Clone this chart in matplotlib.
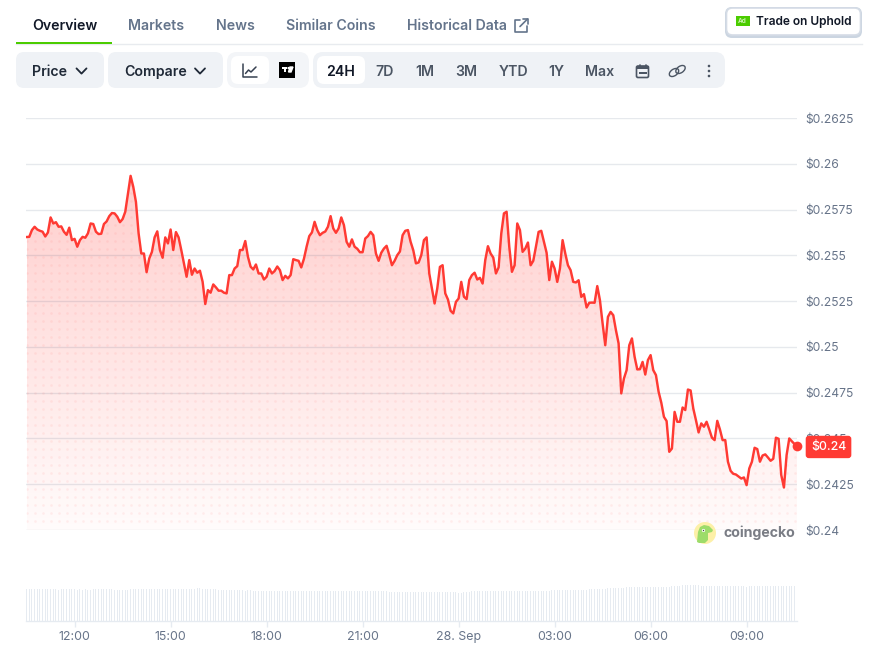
import numpy as np
import matplotlib
matplotlib.use("Agg")
import matplotlib.pyplot as plt
from matplotlib.patches import FancyBboxPatch, Circle, Rectangle, Ellipse

plt.rcParams["font.family"] = ["Inter", "DejaVu Sans"]

# price every 5 minutes
prices = [
    0.25600, 0.25601, 0.25638, 0.25656, 0.25641, 0.25634, 0.25629, 0.25603, 0.25625, 0.25707,
    0.25674, 0.25681, 0.25656, 0.25658, 0.25629, 0.25612, 0.25651, 0.25583, 0.25590, 0.25547,
    0.25583, 0.25601, 0.25596, 0.25620, 0.25674, 0.25671, 0.25629, 0.25616, 0.25618, 0.25671,
    0.25685, 0.25714, 0.25731, 0.25729, 0.25711, 0.25681, 0.25698, 0.25738, 0.25838, 0.25934,
    0.25874, 0.25792, 0.25620, 0.25510, 0.25510, 0.25408, 0.25483, 0.25519, 0.25598, 0.25631,
    0.25529, 0.25487, 0.25598, 0.25565, 0.25641, 0.25529, 0.25627, 0.25598, 0.25529, 0.25456,
    0.25383, 0.25474, 0.25394, 0.25428, 0.25405, 0.25416, 0.25356, 0.25234, 0.25310, 0.25296,
    0.25341, 0.25325, 0.25307, 0.25307, 0.25296, 0.25292, 0.25392, 0.25392, 0.25428, 0.25441,
    0.25529, 0.25529, 0.25578, 0.25492, 0.25438, 0.25423, 0.25450, 0.25401, 0.25401, 0.25368,
    0.25383, 0.25428, 0.25401, 0.25414, 0.25439, 0.25419, 0.25365, 0.25388, 0.25374, 0.25392,
    0.25479, 0.25474, 0.25470,
    0.25434, 0.25481, 0.25547, 0.25605, 0.25625, 0.25683, 0.25638, 0.25610, 0.25623, 0.25630,
    0.25656, 0.25714, 0.25647, 0.25623, 0.25647, 0.25707, 0.25665, 0.25574, 0.25547, 0.25587,
    0.25547, 0.25536, 0.25517, 0.25517, 0.25592, 0.25605, 0.25628, 0.25610, 0.25510, 0.25470,
    0.25514, 0.25537, 0.25552, 0.25501, 0.25446, 0.25470, 0.25501, 0.25521, 0.25610, 0.25634,
    0.25638, 0.25574, 0.25528, 0.25456, 0.25461, 0.25501, 0.25583, 0.25598, 0.25401, 0.25319,
    0.25237, 0.25319, 0.25437, 0.25446, 0.25292, 0.25259, 0.25197, 0.25183, 0.25246, 0.25264,
    0.25355, 0.25274, 0.25261, 0.25365, 0.25392, 0.25405, 0.25368, 0.25377, 0.25346, 0.25474,
    0.25550, 0.25510, 0.25488, 0.25401, 0.25434, 0.25619, 0.25729, 0.25738, 0.25547, 0.25410,
    0.25446, 0.25674, 0.25638, 0.25519, 0.25537, 0.25570, 0.25446, 0.25470, 0.25547, 0.25628,
    0.25634, 0.25574, 0.25514, 0.25365, 0.25465, 0.25428, 0.25355, 0.25428, 0.25583, 0.25510,
    0.25446,
    0.25419, 0.25355, 0.25352, 0.25364, 0.25273, 0.25288, 0.25215, 0.25241, 0.25242, 0.25241,
    0.25332, 0.25255, 0.25128, 0.25009, 0.25164, 0.25191, 0.25173, 0.25091, 0.25019, 0.24746,
    0.24827, 0.24873, 0.25009, 0.25046, 0.24946, 0.24877, 0.24878, 0.24918, 0.24849, 0.24928,
    0.24955, 0.24873, 0.24846, 0.24755, 0.24696, 0.24618, 0.24595, 0.24427, 0.24445, 0.24645,
    0.24591, 0.24591, 0.24669, 0.24655, 0.24767, 0.24762, 0.24664, 0.24600, 0.24533, 0.24582,
    0.24564, 0.24591, 0.24549, 0.24504, 0.24491, 0.24596, 0.24549, 0.24491, 0.24491, 0.24373,
    0.24323, 0.24307, 0.24303, 0.24292, 0.24281, 0.24287, 0.24245, 0.24336, 0.24373, 0.24449,
    0.24442, 0.24373, 0.24407, 0.24413, 0.24396, 0.24378, 0.24389, 0.24504, 0.24498, 0.24300,
    0.24232, 0.24409, 0.24500, 0.24484, 0.24469, 0.24458,
]
volumes = [
    32, 32, 32, 32, 32, 32, 32, 32, 32, 32, 32, 32, 31, 32, 32, 32, 32, 32, 32, 31,
    32, 31, 32, 31, 31, 32, 32, 32, 32, 32, 32, 32, 32, 31, 31, 31, 31, 31, 31, 32,
    32, 32, 32, 32, 32, 32, 32, 32, 32, 32, 32, 32, 32, 32, 32, 32, 32, 32, 32, 32,
    32, 32, 32, 32, 33, 33, 32, 32, 32, 32, 32, 32, 31, 31, 31, 31, 31, 31, 31, 31,
    31, 31, 30, 31, 31, 30, 30, 30, 30, 30, 30, 30, 30, 30, 30, 30, 30, 30, 30, 30,
    30, 30, 30, 30, 30, 30, 30, 30, 30, 30, 30, 30, 30, 30, 30, 30, 30, 30, 30, 30,
    30, 30, 30, 30, 30, 30, 30, 30, 30, 30, 30, 30, 30, 30, 30, 30, 29, 29, 29, 29,
    29, 29, 29, 29, 29, 29, 29, 29, 29, 29, 29, 29, 29, 29, 29, 29, 29, 29, 29, 29,
    29, 29, 28, 28, 29, 29, 29, 30, 30, 30, 30, 30, 30, 30, 30, 30, 30, 30, 30, 30,
    30, 30, 30, 30, 30, 30, 30, 30, 30, 30, 30, 30, 30, 30, 30, 30, 30, 31, 31, 31,
    31, 31, 31, 31, 31, 31, 31, 31, 31, 31, 31, 32, 32, 32, 32, 32, 32, 32, 33, 33,
    33, 33, 33, 33, 33, 34, 34, 34, 34, 34, 34, 34, 34, 34, 34, 34, 34, 34, 34, 34,
    34, 34, 35, 35, 35, 35, 36, 36, 36, 36, 36, 36, 36, 35, 35, 35, 35, 35, 35, 35,
    35, 35, 35, 35, 35, 35, 35, 35, 35, 35, 34, 35, 35, 35, 35, 35, 35, 35, 35, 35,
    35, 35, 35, 35, 35, 35, 35, 35, 35, 35,
]
start_hour = 10.5  # 10:30 the day before
step_hours = 5 / 60

y_ticks = [0.24, 0.2425, 0.245, 0.2475, 0.25, 0.2525, 0.255, 0.2575, 0.26, 0.2625]
y_labels = ["$0.24", "$0.2425", "$0.245", "$0.2475", "$0.25", "$0.2525", "$0.255", "$0.2575", "$0.26", "$0.2625"]
x_ticks = [12, 15, 18, 21, 24, 27, 30, 33]
x_labels = ["12:00", "15:00", "18:00", "21:00", "28. Sep", "03:00", "06:00", "09:00"]
tabs = ["Overview", "Markets", "News", "Similar Coins", "Historical Data"]
ranges = ["24H", "7D", "1M", "3M", "YTD", "1Y", "Max"]

RED = "#ff3a33"
GREY = "#677489"
INK = "#111827"
SLATE = "#4b5563"
PILL = "#eff2f6"
W, H = 877, 648


def rect_from_px(x0, y0, x1, y1):
    return [x0 / W, 1 - y1 / H, (x1 - x0) / W, (y1 - y0) / H]


def hour_at(px):
    return 12 + (px - 74.6) / 32


hours = start_hour + np.arange(len(prices)) * step_hours
vol_hours = start_hour + np.arange(len(volumes)) * step_hours

fig = plt.figure(figsize=(W / 100, H / 100), dpi=100, facecolor="white")

# price chart
ax = fig.add_axes(rect_from_px(26, 118, 797, 530))
ax.set_xlim(hour_at(26), hour_at(797))
ax.set_ylim(0.24, 0.2625)
ax.patch.set_alpha(0)
for s in ax.spines.values():
    s.set_visible(False)
ax.set_axisbelow(False)
ax.grid(axis="y", color="#1e3a5f", alpha=0.11, lw=1)
ax.grid(axis="x", visible=False)
ax.set_xticks([])
ax.yaxis.tick_right()
ax.set_yticks(y_ticks)
ax.set_yticklabels(y_labels, fontsize=8.7, color=GREY)
ax.tick_params(axis="y", length=0, pad=6)

area = ax.fill_between(hours, prices, 0.24, color="none", lw=0, zorder=1)
clip = area.get_paths()[0]
alpha = np.linspace(0.25, 0.02, 256)
grad = np.zeros((256, 1, 4))
grad[..., 0], grad[..., 1], grad[..., 2] = 1.0, 0.227, 0.2
grad[:, 0, 3] = alpha
im = ax.imshow(grad, extent=[hours[0], hours[-1], 0.24, 0.2595], origin="upper", aspect="auto", zorder=1)
im.set_clip_path(clip, transform=ax.transData)
ax.set_xlim(hour_at(26), hour_at(797))
ax.set_ylim(0.24, 0.2625)

# dotted texture inside the area
gx, gy = np.meshgrid(np.arange(hours[0], hours[-1], 8 / 32), np.arange(0.2405, 0.2595, 8 / 412 * 0.0225))
dots = ax.scatter(gx.ravel(), gy.ravel(), s=3.6, color=RED, alpha=0.07, lw=0, zorder=1.2)
dots.set_clip_path(clip, transform=ax.transData)

ax.plot(hours, prices, color=RED, lw=1.75, solid_joinstyle="round", zorder=3)
ax.plot(hours[-1], prices[-1], "o", ms=7, color=RED, mew=0, zorder=9, clip_on=False)
ax.annotate("$0.24", xy=(hours[-1], prices[-1]), xytext=(22.5, -0.6), textcoords="offset points",
            ha="center", va="center", color="white", fontsize=8.9, fontweight="medium", zorder=10,
            annotation_clip=False,
            bbox=dict(boxstyle="round,pad=0.42,rounding_size=0.25", fc=RED, ec="none"))

# volume strip
vax = fig.add_axes(rect_from_px(26, 585.3, 797, 621.3))
vax.set_xlim(hour_at(26), hour_at(797))
vax.set_ylim(0, 36)
vax.bar(vol_hours, volumes, width=1 / 32, color="#e6ebf1", lw=0)
for side in ["top", "left", "right"]:
    vax.spines[side].set_visible(False)
vax.spines["bottom"].set_color("#e6ebf1")
vax.spines["bottom"].set_linewidth(1)
vax.set_yticks([])
vax.set_xticks(x_ticks)
vax.set_xticklabels(x_labels, fontsize=8.9, color=GREY)
vax.tick_params(axis="x", length=4, width=1, color="#e6ebf1", pad=3)

# page furniture, in pixels
ui = fig.add_axes([0, 0, 1, 1], zorder=-1)
ui.set_xlim(0, W)
ui.set_ylim(H, 0)
ui.axis("off")
top = fig.add_axes([0, 0, 1, 1], zorder=5)
top.set_xlim(0, W)
top.set_ylim(H, 0)
top.axis("off")


def box(x0, y0, x1, y1, r, fc, ec="none", lw=0, z=1):
    ui.add_patch(FancyBboxPatch((x0, y0), x1 - x0, y1 - y0, boxstyle=f"round,pad=0,rounding_size={r}",
                                fc=fc, ec=ec, lw=lw, zorder=z))


def icon(xs, ys, color=SLATE, lw=1.1):
    ui.plot(xs, ys, color=color, lw=lw, solid_capstyle="round", solid_joinstyle="round", zorder=5)


def chevron(cx, cy):
    icon([cx - 5, cx, cx + 5], [cy - 2.6, cy + 2.6, cy - 2.6], color="#1f2937", lw=1.3)


# tabs
tab_x = [32, 128, 216, 286, 407]
for i, (name, tx) in enumerate(zip(tabs, tab_x)):
    ui.text(tx, 26, name, fontsize=10.2, va="center", color=INK if i == 0 else "#64748b",
            fontweight="semibold")
ui.plot([16, 862], [43.5, 43.5], color="#e8ebef", lw=1, zorder=1)
ui.add_patch(Rectangle((16, 42), 96, 2, fc="#4bcc00", ec="none", zorder=2))
# external link icon
icon([520, 515, 515, 527, 527], [20, 20, 32, 32, 26], color="#64748b", lw=1.2)
icon([520, 527.5], [26.5, 19], color="#64748b", lw=1.2)
icon([523, 527.5, 527.5], [19, 19, 23.5], color="#64748b", lw=1.2)

# Trade button
box(725, 7, 862, 38, 7, "#cbd5e1", z=1)
box(726.5, 8, 860.5, 35, 6, "white", ec="#d5dce6", lw=1.2, z=2)
ui.add_patch(Rectangle((736, 16), 13.5, 10, fc="#4bcc00", ec="none", zorder=3))
ui.text(742.7, 21.2, "Ad", fontsize=4.6, color="#c9f2ae", ha="center", va="center", fontweight="bold", zorder=4)
ui.text(755.5, 22, "Trade on Uphold", fontsize=8.6, color=INK, va="center", fontweight="semibold", zorder=4)

# control row
box(16, 52, 104, 88, 8, PILL)
box(108, 52, 223, 88, 8, PILL)
box(227, 52, 309, 88, 10, "#f3f5f8")
box(231, 56, 269, 84, 7, "white", z=2)
box(313, 52, 725, 88, 10, PILL)
box(317, 56, 365, 84, 7, "white", z=2)
ui.text(32, 72, "Price", fontsize=10.2, va="center", color="#1f2937", fontweight="semibold")
chevron(81.5, 71)
ui.text(124, 72, "Compare", fontsize=10.2, va="center", color="#1f2937", fontweight="semibold")
chevron(200, 71)

# line chart icon
icon([243, 243, 256.5], [64, 77, 77], color="#374151")
icon([245.5, 248.5, 251, 256], [73.5, 70, 72, 67], color="#374151")
# tradingview icon
ui.add_patch(Rectangle((279, 62), 16, 16, fc="black", ec="none", zorder=3))
ui.add_patch(Rectangle((282, 67), 5, 2.2, fc="white", ec="none", zorder=4))
ui.add_patch(Rectangle((284, 67), 2, 5, fc="white", ec="none", zorder=4))
ui.add_patch(Circle((288.5, 68), 1.1, fc="white", ec="none", zorder=4))
ui.fill([290, 293, 291, 288.5], [67, 67, 72, 72], color="white", zorder=4)

range_x = [341, 385, 425, 466, 513, 556, 600]
for i, (name, tx) in enumerate(zip(ranges, range_x)):
    ui.text(tx, 72, name, fontsize=10.2, ha="center", va="center", zorder=4,
            color=INK if i == 0 else SLATE, fontweight="semibold")

# calendar
box(636.5, 66, 648.5, 77.5, 1.5, "none", ec=SLATE, lw=1.2, z=5)
ui.add_patch(Rectangle((636.5, 66), 12, 3, fc=SLATE, ec="none", zorder=5))
ui.add_patch(Rectangle((638.5, 71.5), 8, 2, fc=SLATE, ec="none", zorder=5))
icon([639.5, 639.5], [64.5, 66.5], lw=1.2)
icon([645.5, 645.5], [64.5, 66.5], lw=1.2)
# link
ui.add_patch(Ellipse((674, 72.5), 10.5, 6.5, angle=-35, fc="none", ec=SLATE, lw=1, zorder=5))
ui.add_patch(Ellipse((680.5, 69.5), 10.5, 6.5, angle=-35, fc="none", ec=SLATE, lw=1, zorder=5))
# kebab
for ky in [66, 71, 76]:
    ui.add_patch(Circle((709, ky), 1.3, fc=SLATE, ec="none", zorder=5))

# coingecko mark
top.add_patch(Circle((705, 533), 11, fc="#fdf0a8", ec="none"))
top.fill([697, 698, 700, 704, 709, 713, 712, 708, 708, 705, 699],
         [542, 532, 527, 525, 526, 530, 532, 533, 540, 543, 543], color="#9ddc6a", lw=0)
top.add_patch(Circle((703.5, 530.5), 1.6, fc="white", ec="none"))
top.add_patch(Circle((703.5, 530.5), 0.7, fc="#444", ec="none"))
top.text(723, 533, "coingecko", fontsize=10.2, color="#7a7d85", va="center", fontweight="bold")

fig.savefig("out.png", dpi=100, facecolor="white")
